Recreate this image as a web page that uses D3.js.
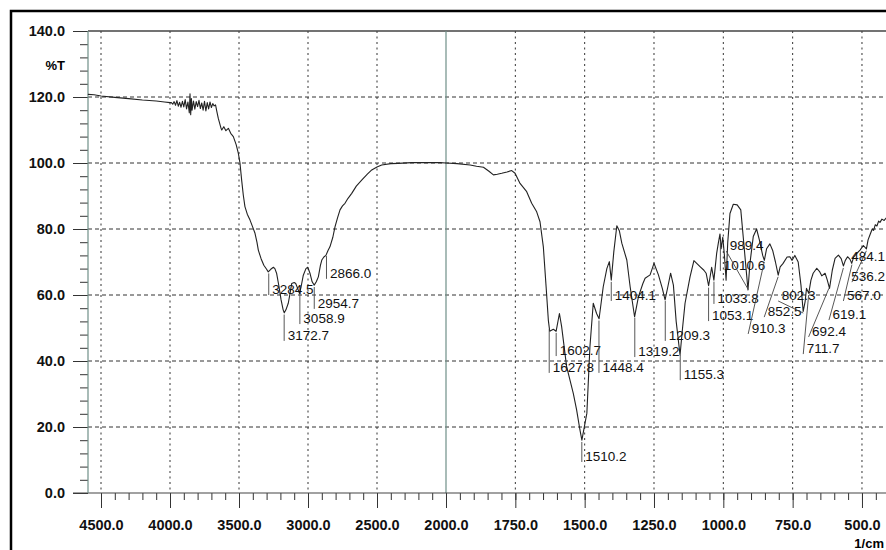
<!DOCTYPE html>
<html>
<head>
<meta charset="utf-8">
<script src="https://cdn.jsdelivr.net/npm/d3@7"></script>
<style>
  body { margin: 0; background: #fff; }
  svg { display: block; font-family: "Liberation Sans", Arial, sans-serif; }
</style>
</head>
<body>
<div id="chart"></div>
<script>
  // spectrum: wavenumber (1/cm) and transmittance (%T)
  var wavenumber = [4595, 4550, 4500, 4400, 4300, 4200, 4100, 4040, 4000,
    3990, 3980, 3970, 3960, 3950, 3940, 3930, 3920, 3910, 3900, 3890, 3880, 3870, 3860, 3855, 3850, 3845, 3840,
    3830, 3820, 3810, 3800, 3790, 3780, 3770, 3760, 3750, 3740, 3730, 3720, 3710, 3700, 3690, 3680, 3670,
    3660, 3650, 3640, 3630, 3625, 3610, 3595, 3577, 3560, 3541, 3520, 3505, 3493, 3480, 3469, 3457, 3440,
    3420, 3400, 3384, 3370, 3360, 3340, 3320, 3300, 3288, 3270, 3251, 3240, 3227, 3210, 3195, 3180, 3172,
    3160, 3143, 3130, 3118, 3100, 3089, 3075, 3062, 3050, 3034, 3015, 3002, 2985, 2970, 2955, 2940, 2925,
    2910, 2900, 2885, 2870, 2855, 2841, 2820, 2804, 2785, 2768, 2750, 2732, 2710, 2683, 2650, 2611, 2570,
    2538, 2500, 2466, 2400, 2346, 2250, 2152, 2043, 2000,
    1960, 1913, 1890, 1865, 1845, 1829, 1815, 1799, 1780, 1763, 1751, 1733, 1709, 1691, 1673, 1661, 1649,
    1639, 1631, 1626, 1613, 1603, 1591, 1583, 1565, 1541, 1529, 1517, 1510, 1492, 1481, 1469, 1457, 1448,
    1433, 1420, 1411, 1404, 1395, 1384, 1375, 1366, 1348, 1336, 1320, 1306, 1290, 1282, 1264, 1250, 1234,
    1220, 1210, 1200, 1190, 1180, 1170, 1156, 1147, 1138, 1120, 1106, 1095, 1084, 1070, 1062, 1053, 1042,
    1034, 1024, 1018, 1012, 1008, 1002, 996, 990, 984, 976, 964, 950, 937, 925, 918, 911, 904, 892, 880,
    870, 858, 852, 844, 832, 822, 812, 802, 795, 785, 770, 760, 752, 742, 730, 720, 712, 705, 700, 692,
    684, 676, 663, 652, 645, 633, 625, 617, 607, 597, 585, 575, 567, 560, 552, 543, 537, 530, 520, 507,
    495, 484, 478, 470, 463, 458, 452, 446, 440, 435, 428, 420, 413, 405];
  var transmittance = [120.8, 120.7, 120.3, 119.9, 119.5, 119.1, 118.8, 118.5, 118.3,
    118.3, 117.8, 118.6, 117.5, 118.9, 117.2, 118.4, 116.9, 118.7, 117.0, 119.2, 116.4, 118.5, 115.2, 121.0, 114.6, 119.5, 116.0,
    118.8, 116.3, 118.6, 117.1, 119.0, 116.5, 118.2, 116.0, 118.7, 115.8, 118.3, 116.4, 118.5, 116.8, 118.0, 117.3, 117.6,
    115.5, 113.5, 112.0, 110.5, 110.0, 111.0, 109.8, 110.5, 109.0, 108.0, 105.5, 103.0, 100.0, 94.5, 90.3, 86.8, 84.5,
    82.7, 80.5, 78.7, 76.0, 73.6, 71.0, 69.0, 67.8, 67.0, 67.8, 68.4, 68.0, 66.5, 62.5, 58.5, 55.5, 54.6,
    55.5, 57.5, 60.5, 63.5, 63.8, 63.5, 62.0, 60.5, 62.5, 66.0, 68.0, 68.4, 66.5, 64.0, 63.0, 64.0, 65.5,
    69.0, 70.6, 71.5, 72.0, 73.5, 74.6, 77.5, 80.7, 83.5, 85.8, 87.0, 87.8, 89.3, 90.8, 93.0, 94.8, 96.6,
    97.9, 98.8, 99.4, 99.8, 99.9, 100.1, 100.1, 100.1, 100.0,
    99.8, 99.4, 99.0, 98.7, 97.5, 96.4, 96.6, 96.9, 97.3, 97.7, 96.9, 93.8, 91.3, 87.8, 85.2, 82.2, 74.6,
    62.5, 52.4, 49.0, 49.6, 49.0, 54.4, 50.4, 38.3, 30.2, 25.2, 19.1, 16.0, 24.2, 44.3, 57.5, 54.4, 52.8,
    62.5, 68.0, 70.1, 64.5, 73.0, 81.0, 79.5, 75.7, 70.6, 62.5, 53.4, 59.5, 63.5, 65.1, 66.1, 69.6, 66.1,
    62.0, 58.5, 62.5, 66.6, 63.0, 52.0, 41.8, 50.0, 57.5, 65.5, 70.4, 69.5, 68.6, 67.5, 66.6, 62.8, 68.4,
    64.5, 72.6, 75.7, 78.5, 74.0, 77.5, 72.0, 64.5, 76.0, 84.7, 87.5, 87.3, 85.8, 74.6, 68.0, 61.5, 69.6, 77.7, 80.0,
    76.7, 72.0, 70.5, 74.0, 75.5, 73.5, 70.0, 66.0, 68.5, 69.5, 71.5, 71.6, 70.5, 72.0, 70.0, 63.0, 55.0, 58.0, 62.0, 60.5,
    64.5, 66.6, 68.1, 67.0, 65.8, 66.6, 64.5, 62.0, 67.5, 71.1, 72.1, 71.0, 68.8, 70.5, 71.6, 70.8, 69.6, 71.5, 72.5, 73.6,
    75.0, 74.0, 76.7, 78.5, 80.0, 79.6, 81.3, 80.9, 82.4, 82.0, 83.0, 82.6, 83.3, 83.0];

  // picked peaks and the %T level their labels sit at
  var peakWn = [3284.5, 3172.7, 3058.9, 2954.7, 2866.0, 1627.8, 1602.7, 1510.2, 1448.4, 1404.1, 1319.2,
    1209.3, 1155.3, 1053.1, 1033.8, 1010.6, 989.4, 910.3, 852.5, 802.3, 711.7, 692.4, 619.1, 567.0, 536.2, 484.1];
  var peakLabelT = [60.3, 46.4, 51.5, 56.1, 65.2, 36.7, 41.8, 9.7, 36.7, 58.5, 41.5,
    46.4, 34.5, 52.4, 57.6, 67.6, 73.6, 48.5, 53.6, 58.5, 42.4, 47.6, 52.7, 58.5, 64.2, 70.3];
  var peakLabelWn = [3284.5, 3172.7, 3058.9, 2954.7, 2866.0, 1627.8, 1602.7, 1510.2, 1448.4, 1404.1, 1319.2,
    1209.3, 1155.3, 1053.1, 1033.8, 1010.6, 989.4, 910.3, 852.5, 802.3, 711.7, 692.4, 619.1, 567.0, 536.2, 536.2];

  var xMajor = [4500, 4000, 3500, 3000, 2500, 2000, 1750, 1500, 1250, 1000, 750, 500];
  var xMinor = d3.range(4500, 2000, -100).concat(d3.range(2000, 399, -50));
  var yMajor = d3.range(0, 141, 20);
  var yMinor = d3.range(0, 141, 4);

  var width = 886, height = 550;

  var svg = d3.select("#chart").append("svg")
      .attr("width", width)
      .attr("height", height);

  svg.append("rect").attr("width", width).attr("height", height).attr("fill", "#fff");

  // frame (cut off on the right and at the bottom of the scan)
  svg.append("rect")
      .attr("x", 11).attr("y", 11)
      .attr("width", 920).attr("height", 600)
      .attr("fill", "none").attr("stroke", "#000").attr("stroke-width", 2.5);

  // x scale changes at 2000 1/cm (right half is twice as wide per unit)
  var x = d3.scaleLinear().domain([4600, 2000, 400]).range([87.2, 446, 889.7]);
  var y = d3.scaleLinear().domain([0, 140]).range([493, 31]);

  // grid
  svg.append("g").selectAll("line")
    .data(yMajor.filter(function(d) { return d > 0 && d < 140; }))
    .enter().append("line")
      .attr("x1", 88).attr("x2", width)
      .attr("y1", function(d) { return y(d); }).attr("y2", function(d) { return y(d); })
      .attr("stroke", "#333").attr("stroke-width", 1).attr("stroke-dasharray", "4,3");

  svg.append("g").selectAll("line")
    .data(xMajor.filter(function(d) { return d != 2000; }))
    .enter().append("line")
      .attr("x1", function(d) { return x(d); }).attr("x2", function(d) { return x(d); })
      .attr("y1", y(140)).attr("y2", y(0))
      .attr("stroke", "#333").attr("stroke-width", 1).attr("stroke-dasharray", "2,3.5");

  // top line at 140 and the break line at 2000
  svg.append("line")
      .attr("x1", 88).attr("x2", width).attr("y1", y(140)).attr("y2", y(140))
      .attr("stroke", "#444").attr("stroke-width", 1.5);
  svg.append("line")
      .attr("x1", x(2000)).attr("x2", x(2000)).attr("y1", y(140)).attr("y2", y(0))
      .attr("stroke", "#6f8f88").attr("stroke-width", 1.2);

  // axes
  var fmt = d3.format(".1f");

  var yAxis = svg.append("g").attr("transform", "translate(88,0)")
      .call(d3.axisLeft(y).tickValues(yMajor).tickSize(15).tickPadding(8).tickFormat(fmt));
  svg.append("g").attr("transform", "translate(88,0)")
      .call(d3.axisLeft(y).tickValues(yMinor).tickSize(8).tickFormat(""))
      .select(".domain").remove();
  yAxis.select(".domain").remove();

  var xAxis = svg.append("g").attr("transform", "translate(0," + y(0) + ")")
      .call(d3.axisBottom(x).tickValues(xMajor).tickSize(15).tickPadding(12).tickFormat(fmt));
  svg.append("g").attr("transform", "translate(0," + y(0) + ")")
      .call(d3.axisBottom(x).tickValues(xMinor).tickSize(7).tickFormat(""))
      .select(".domain").remove();
  xAxis.select(".domain").remove();

  svg.selectAll(".tick line").attr("stroke", "#333");
  svg.selectAll(".tick text")
      .attr("fill", "#111")
      .style("font-size", "14.5px")
      .style("font-weight", "bold");

  svg.append("line")
      .attr("x1", 73).attr("x2", width).attr("y1", y(0)).attr("y2", y(0))
      .attr("stroke", "#444").attr("stroke-width", 1.2);
  svg.append("line")
      .attr("x1", 88).attr("x2", 88).attr("y1", y(140)).attr("y2", y(0))
      .attr("stroke", "#6f8f88").attr("stroke-width", 1.2);

  svg.append("text")
      .attr("x", 65).attr("y", 70)
      .attr("text-anchor", "end")
      .style("font-size", "13px").style("font-weight", "bold")
      .text("%T");
  svg.append("text")
      .attr("x", width - 2).attr("y", 548)
      .attr("text-anchor", "end")
      .style("font-size", "13px").style("font-weight", "bold")
      .text("1/cm");

  // spectrum
  var points = wavenumber.map(function(w, i) { return [w, transmittance[i]]; });
  var line = d3.line()
      .x(function(d) { return x(d[0]); })
      .y(function(d) { return y(d[1]); });

  svg.append("path")
      .datum(points)
      .attr("fill", "none")
      .attr("stroke", "#222")
      .attr("stroke-width", 1.1)
      .attr("stroke-linejoin", "round")
      .attr("d", line);

  function curveAt(w) {
    for (var i = 0; i < points.length - 1; i++) {
      var a = points[i], b = points[i + 1];
      if (w <= a[0] && w >= b[0]) {
        return a[1] + (b[1] - a[1]) * (a[0] - w) / (a[0] - b[0]);
      }
    }
    return 0;
  }

  // peak labels with leader lines
  var peaks = svg.append("g").selectAll("g")
    .data(peakWn)
    .enter().append("g");

  peaks.append("line")
      .filter(function(d, i) { return y(curveAt(d)) < y(peakLabelT[i]); })
      .attr("x1", function(d) { return x(d); })
      .attr("y1", function(d) { return y(curveAt(d)) + 2; })
      .attr("x2", function(d, i) { return x(peakLabelWn[i]); })
      .attr("y2", function(d, i) { return y(peakLabelT[i]) + 1; })
      .attr("stroke", "#444").attr("stroke-width", 0.9);

  var labels = peaks.append("text")
      .attr("x", function(d, i) { return x(peakLabelWn[i]) + 3.5; })
      .attr("y", function(d, i) { return y(peakLabelT[i]); })
      .attr("fill", "#111")
      .style("font-size", "13.5px")
      .text(function(d) { return d.toFixed(1); });

  // keep the last labels inside the picture
  labels.each(function() {
    var b = this.getBBox();
    if (b.x + b.width > width - 1) {
      d3.select(this).attr("x", width - 1 - b.width);
    }
  });
</script>
</body>
</html>
